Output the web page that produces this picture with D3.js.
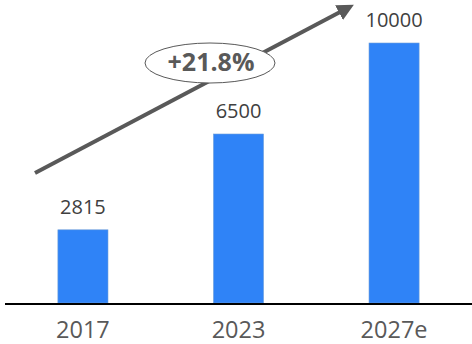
<!DOCTYPE html>
<html>
<head>
<meta charset="utf-8">
<script src="https://cdn.jsdelivr.net/npm/d3@7"></script>
<style>
  body { margin: 0; background: #fff; }
  text { font-family: "Open Sans", "Noto Sans", sans-serif; }
</style>
</head>
<body>
<script>
// chart data
var years = ["2017", "2023", "2027e"];
var values = [2815, 6500, 10000];
var cagrLabel = "+21.8%";

var width = 472, height = 344;
var baseY = 303;

var svg = d3.select("body").append("svg")
    .attr("width", width)
    .attr("height", height);

var x = d3.scaleBand()
    .domain(years)
    .range([5, width])
    .paddingInner(0.678)
    .paddingOuter(0.34);

var y = d3.scaleLinear()
    .domain([0, 10000])
    .range([baseY, 43]);

// bars
svg.append("g").selectAll("rect")
    .data(values)
  .enter().append("rect")
    .attr("x", function(d, i) { return x(years[i]); })
    .attr("y", function(d) { return y(d); })
    .attr("width", x.bandwidth())
    .attr("height", function(d) { return baseY - y(d); })
    .style("fill", "#2f83f7")
    .style("stroke", "#6f9fd9")
    .style("stroke-width", 0.6);

// value labels
svg.append("g").selectAll("text")
    .data(values)
  .enter().append("text")
    .attr("x", function(d, i) { return x(years[i]) + x.bandwidth() / 2; })
    .attr("y", function(d) { return y(d) - 16; })
    .attr("text-anchor", "middle")
    .style("font-size", "20px")
    .style("fill", "#404040")
    .text(function(d) { return d; });

// baseline
svg.append("line")
    .attr("x1", 5).attr("x2", width)
    .attr("y1", baseY + 1).attr("y2", baseY + 1)
    .style("stroke", "#000")
    .style("stroke-width", 2);

// category labels
svg.append("g").selectAll("text")
    .data(years)
  .enter().append("text")
    .attr("x", function(d) { return x(d) + x.bandwidth() / 2; })
    .attr("y", 338)
    .attr("text-anchor", "middle")
    .style("font-size", "23.5px")
    .style("fill", "#595959")
    .text(function(d) { return d; });

// growth arrow
svg.append("defs").append("marker")
    .attr("id", "head")
    .attr("viewBox", "0 0 10 10")
    .attr("refX", 2).attr("refY", 5)
    .attr("markerWidth", 4.2).attr("markerHeight", 4.2)
    .attr("orient", "auto")
  .append("path")
    .attr("d", "M0,0L10,5L0,10Z")
    .style("fill", "#595959");

svg.append("line")
    .attr("x1", 35).attr("y1", 173)
    .attr("x2", 342).attr("y2", 11)
    .style("stroke", "#595959")
    .style("stroke-width", 4)
    .attr("marker-end", "url(#head)");

// CAGR bubble
svg.append("ellipse")
    .attr("cx", 210).attr("cy", 63)
    .attr("rx", 65).attr("ry", 20)
    .style("fill", "#fff")
    .style("stroke", "#595959")
    .style("stroke-width", 1);

svg.append("text")
    .attr("x", 211).attr("y", 71)
    .attr("text-anchor", "middle")
    .style("font-size", "25px")
    .style("font-weight", "bold")
    .style("fill", "#595959")
    .text(cagrLabel);
</script>
</body>
</html>
